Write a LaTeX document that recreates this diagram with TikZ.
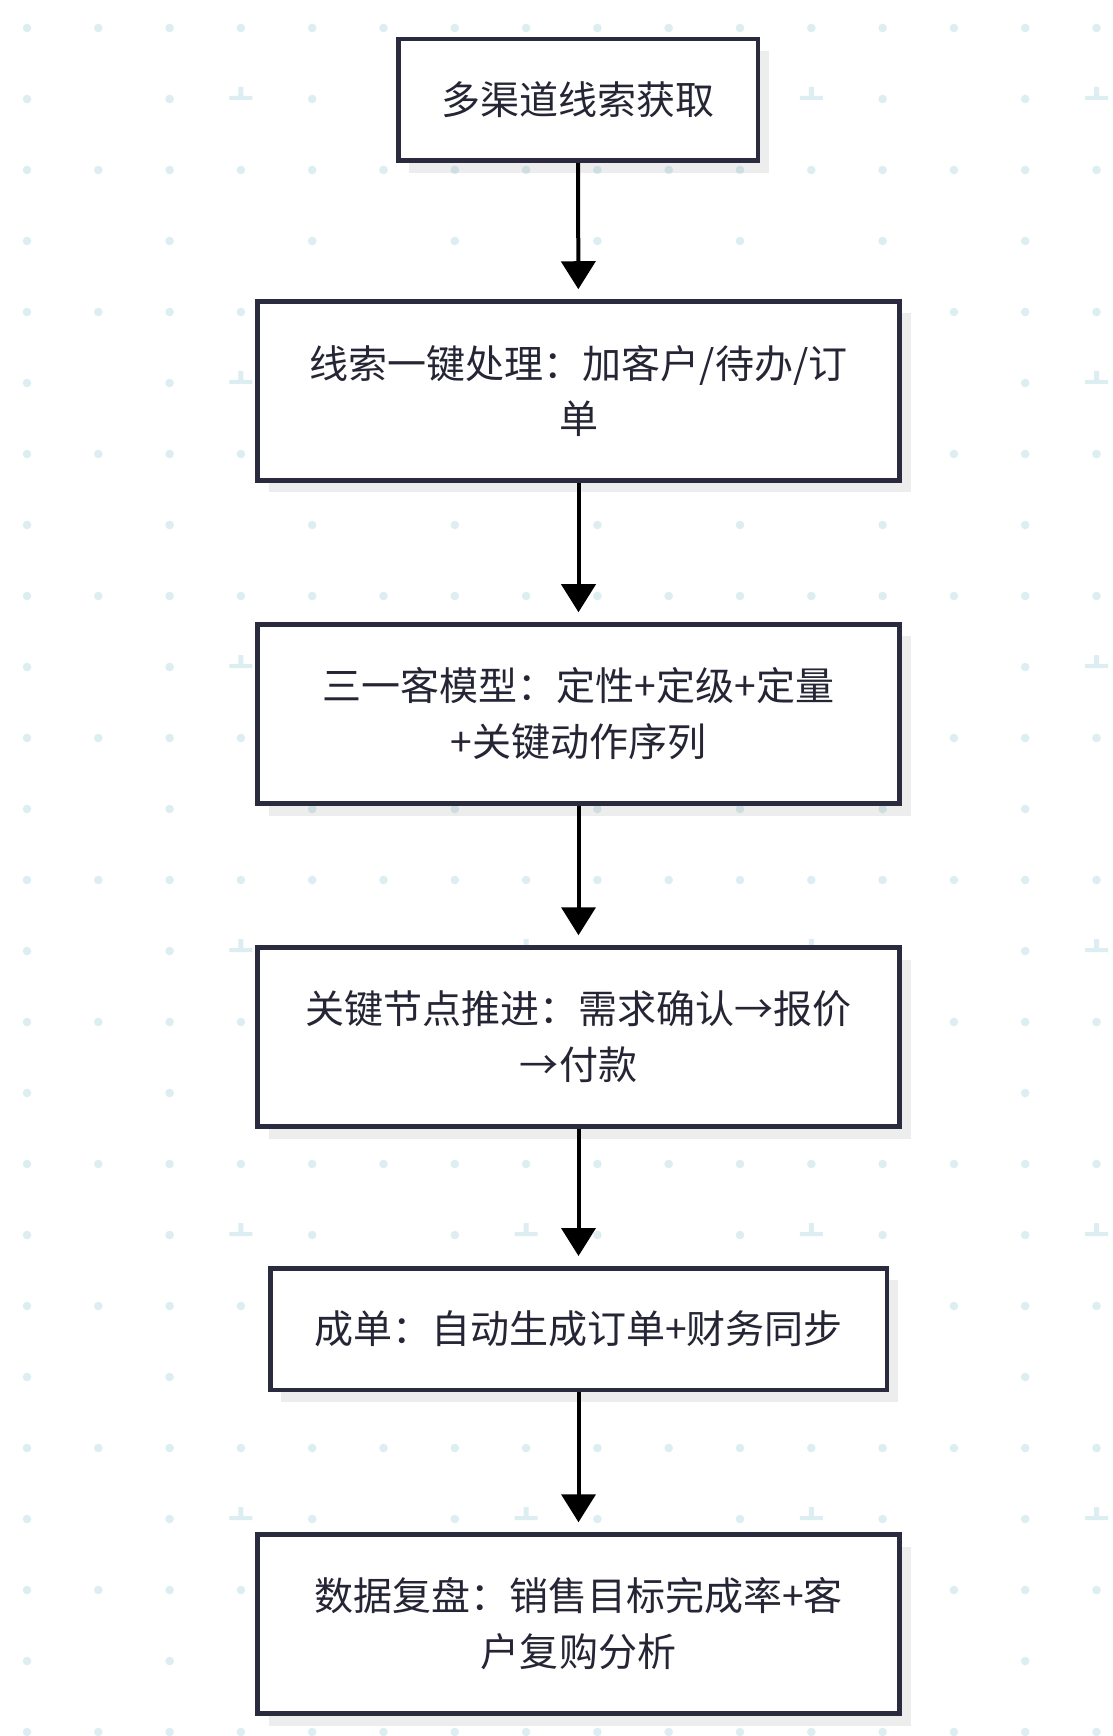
\documentclass[tikz,border=0pt]{standalone}
\usepackage{fontspec}
\setmainfont{Noto Sans CJK SC}
\usetikzlibrary{arrows.meta,shadows}

\definecolor{boxline}{HTML}{2B2B3F}
\definecolor{dotblue}{HTML}{DDEEF2}
\definecolor{txt}{HTML}{252535}

\tikzset{
  stage/.style={draw=boxline, line width=0.045cm, fill=white, text=txt,
    align=center, inner sep=0pt,
    font=\fontsize{11.1pt}{15.9pt}\selectfont,
    minimum width=6.42cm, minimum height=1.79cm,
    drop shadow={shadow xshift=0.11cm, shadow yshift=-0.12cm, fill=black, opacity=0.07}},
  flow/.style={line width=0.04cm, -{Triangle[length=0.28cm,width=0.34cm]}, shorten >=0.1cm}
}

\begin{document}
\begin{tikzpicture}
  \useasboundingbox [fill=white] (0,0) rectangle (11.12,-17.36);

  % dot grid
  \foreach \j in {0,2,...,24}
    \foreach \k in {0,...,15}
      \fill [dotblue] (0.27+0.713*\k,-0.28-0.71*\j) circle [radius=0.043];
  \foreach \j in {1,3,...,23}
    \foreach \k in {0,2,...,14}
      \fill [dotblue] (0.27+0.713*\k,-0.28-0.71*\j) circle [radius=0.043];
  \foreach \j in {1,5,...,21}
    \foreach \k in {3,7,11,15}
      \fill [dotblue, shift={(0.27+0.713*\k,-0.28-0.71*\j)}]
        (-0.115,-0.01) rectangle (0.115,0.03) (-0.025,0.03) rectangle (0.025,0.12);

  % stages
  \node [stage, minimum width=3.595cm, minimum height=1.215cm] (leads) at (5.78,-1.00) {多渠道线索获取};
  \node [stage] (handle) at (5.785,-3.91) {线索一键处理：加客户/待办/订\\单};
  \node [stage] (model) at (5.785,-7.14) {三一客模型：定性+定级+定量\\+关键动作序列};
  \node [stage] (push) at (5.785,-10.37) {关键节点推进：需求确认→报价\\→付款};
  \node [stage, minimum width=6.165cm, minimum height=1.215cm] (deal) at (5.785,-13.29) {成单：自动生成订单+财务同步};
  \node [stage] (review) at (5.785,-16.24) {数据复盘：销售目标完成率+客\\户复购分析};

  \draw [flow] (leads) -- (handle);
  \draw [flow] (handle) -- (model);
  \draw [flow] (model) -- (push);
  \draw [flow] (push) -- (deal);
  \draw [flow] (deal) -- (review);

\end{tikzpicture}
\end{document}
